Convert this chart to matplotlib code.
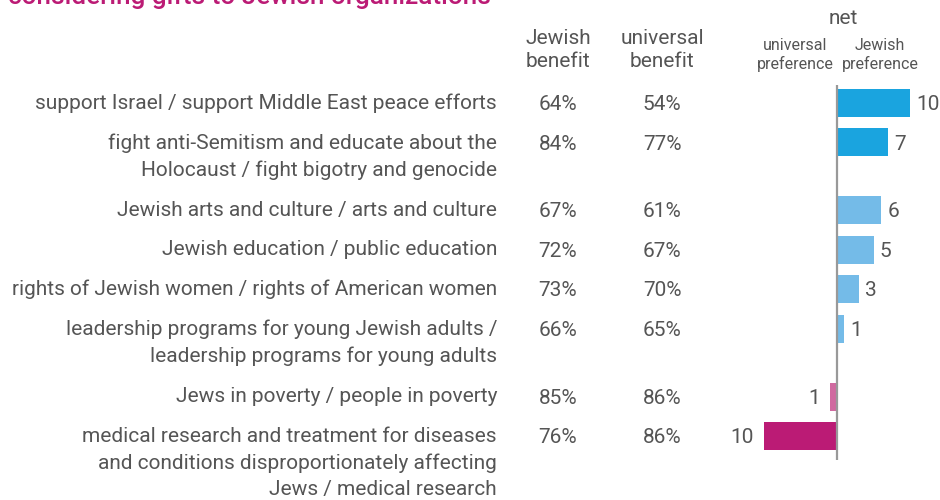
import matplotlib
matplotlib.use("Agg")
import matplotlib.pyplot as plt
import matplotlib.transforms as mtransforms

plt.rcParams['font.family'] = ['Roboto', 'DejaVu Sans']

title = "considering gifts to Jewish organizations"
categories = [
    "support Israel / support Middle East peace efforts",
    "fight anti-Semitism and educate about the\nHolocaust / fight bigotry and genocide",
    "Jewish arts and culture / arts and culture",
    "Jewish education / public education",
    "rights of Jewish women / rights of American women",
    "leadership programs for young Jewish adults /\nleadership programs for young adults",
    "Jews in poverty / people in poverty",
    "medical research and treatment for diseases\nand conditions disproportionately affecting\nJews / medical research",
]
jewish_benefit = [64, 84, 67, 72, 73, 66, 85, 76]
universal_benefit = [54, 77, 61, 67, 70, 65, 86, 86]
net = [10, 7, 6, 5, 3, 1, -1, -10]
bar_colors = ["#1aa4df", "#1aa4df", "#74bbe8", "#74bbe8", "#74bbe8", "#74bbe8",
              "#d06aa0", "#bb1b75"]

TEXT = "#555555"
W, H = 940, 500
fig = plt.figure(figsize=(W / 100, H / 100), dpi=100)
ax = fig.add_axes([0, 0, 1, 1])
ax.axis("off")

# row positions: extra space after multi-line labels
pos = []
p = 0.0
for i, c in enumerate(categories):
    pos.append(p)
    p += 1 + 0.72 * (c.count("\n"))

unit = 39.45          # px per row unit
top_px = 103          # first row center from top
zero_px = 837         # zero line x
scale = 7.33          # px per net unit
ax.set_xlim(-zero_px / scale, (W - zero_px) / scale)
ax.set_ylim((H - top_px) / unit, -top_px / unit)

bars = ax.barh(pos, net, height=28 / unit, color=bar_colors, zorder=2)
ax.vlines(0, -0.45, pos[-1] + 0.62, color="#999999", lw=1.6, zorder=3)

trans = mtransforms.blended_transform_factory(ax.transAxes, ax.transData)
fs = 15
for y, c, j, u, n in zip(pos, categories, jewish_benefit, universal_benefit, net):
    ax.text(497 / W, y - 0.235, c, transform=trans, ha="right", va="top", fontsize=fs,
            color=TEXT, linespacing=1.48)
    ax.text(558 / W, y + 0.04, f"{j}%", transform=trans, ha="center", va="center",
            fontsize=fs, color=TEXT)
    ax.text(662 / W, y + 0.04, f"{u}%", transform=trans, ha="center", va="center",
            fontsize=fs, color=TEXT)
    if n >= 0:
        ax.text(n + 0.85, y + 0.04, f"{n}", ha="left", va="center", fontsize=fs, color=TEXT)
    else:
        ax.text(n - 1.3, y + 0.04, f"{abs(n)}", ha="right", va="center", fontsize=fs, color=TEXT)

# headers
def fy(px):
    return 1 - px / H

fig.text(558 / W, fy(50), "Jewish\nbenefit", ha="center", va="center", fontsize=15,
         color=TEXT, linespacing=1.28)
fig.text(662 / W, fy(50), "universal\nbenefit", ha="center", va="center", fontsize=15,
         color=TEXT, linespacing=1.28)
fig.text(843 / W, fy(18), "net", ha="center", va="center", fontsize=15, color=TEXT)
fig.text(795 / W, fy(55), "universal\npreference", ha="center", va="center",
         fontsize=11.5, color=TEXT, linespacing=1.3)
fig.text(880 / W, fy(55), "Jewish\npreference", ha="center", va="center",
         fontsize=11.5, color=TEXT, linespacing=1.3)

fig.text(8 / W, fy(4), title, ha="left", va="baseline", fontsize=18.8,
         color="#bb1b75", fontweight="medium")

fig.savefig("out.png", dpi=100)
